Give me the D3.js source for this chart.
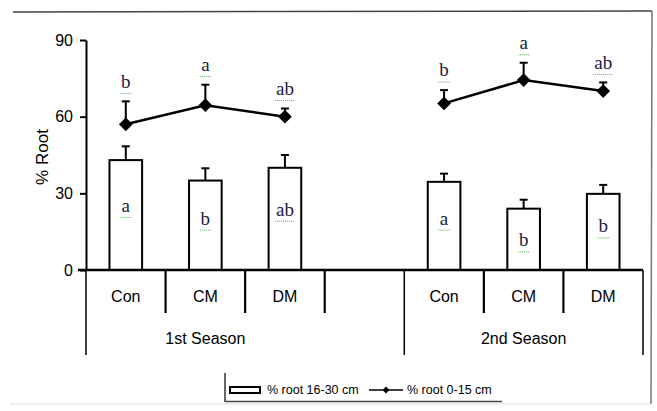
<!DOCTYPE html>
<html>
<head>
<meta charset="utf-8">
<script src="https://cdn.jsdelivr.net/npm/d3@7"></script>
<style>
	body { margin: 0; background: #fff; }
	svg { display: block; font-family: Arial, "Liberation Sans", sans-serif; }
</style>
</head>
<body>
<div id="chart"></div>
<script>

// categories
var seasons = ["1st Season", "2nd Season"];
var treatments = ["Con", "CM", "DM"];

// % root 16-30 cm (bars), upper error and letters
var deepRoot = [43, 35, 40, 34.5, 24, 29.8];
var deepErr = [5.4, 4.8, 5, 3.2, 3.5, 3.5];
var deepLetters = ["a", "b", "ab", "a", "b", "b"];
var deepLetterAt = [24.5, 19.5, 23, 19.5, 11, 16.5];	// where the letter sits, in % root

// % root 0-15 cm (line), upper error and letters
var topRoot = [57, 64.5, 60, 65.2, 74.3, 70];
var topErr = [9, 8, 3.2, 5.2, 6.8, 3.4];
var topLetters = ["b", "a", "ab", "b", "a", "ab"];

var yTicks = [0, 30, 60, 90];
var legendNames = ["% root 16-30 cm", "% root 0-15 cm"];

/*
 *	CHART PROPERTIES
 */
var width = 657, height = 411;
var margin = { top: 40, left: 86, right: 643, bottom: 270 };
var letterColor = "#1c1c3c";

var svg = d3.select("#chart").append("svg")
	.attr("width", width)
	.attr("height", height);

// frame round the figure
svg.append("line").attr("x1", 13).attr("y1", 12).attr("x2", 652).attr("y2", 11)
	.attr("stroke", "#444").attr("stroke-width", 1.5);
svg.append("line").attr("x1", 652).attr("y1", 11).attr("x2", 651).attr("y2", 404)
	.attr("stroke", "#777").attr("stroke-width", 1.5);
svg.append("line").attr("x1", 10).attr("y1", 404).attr("x2", 651).attr("y2", 404)
	.attr("stroke", "#ddd").attr("stroke-width", 1);

// 7 slots: 3 treatments, empty gap, 3 treatments
function slotOf(i) { return Math.floor(i / 3) * 4 + (i % 3); }

var xScale = d3.scaleBand()
	.domain(d3.range(7))
	.range([margin.left, margin.right])
	.padding(0);
var bw = xScale.bandwidth();
var barW = bw * 0.41;
function cx(i) { return xScale(slotOf(i)) + bw / 2; }

var yScale = d3.scaleLinear()
	.domain([0, 90])
	.range([margin.bottom, margin.top]);

var g = svg.append("g");

// bars
g.selectAll("rect.bar")
	.data(deepRoot).enter()
	.append("rect")
		.attr("class", "bar")
		.attr("x", function(d, i) { return cx(i) - barW / 2; })
		.attr("y", function(d) { return yScale(d); })
		.attr("width", barW)
		.attr("height", function(d) { return yScale(0) - yScale(d); })
		.attr("fill", "#fff")
		.attr("stroke", "#000")
		.attr("stroke-width", 2);

// upper error bars
function errBar(x, v, e) {
	var y1 = yScale(v), y2 = yScale(v + e);
	g.append("line").attr("x1", x).attr("x2", x).attr("y1", y1).attr("y2", y2)
		.attr("stroke", "#000").attr("stroke-width", 2);
	g.append("line").attr("x1", x - 4).attr("x2", x + 4).attr("y1", y2).attr("y2", y2)
		.attr("stroke", "#000").attr("stroke-width", 2);
}
deepRoot.forEach(function(d, i) { errBar(cx(i), d, deepErr[i]); });
topRoot.forEach(function(d, i) { errBar(cx(i), d, topErr[i]); });

// one line per season
var line = d3.line()
	.x(function(d) { return cx(d.i); })
	.y(function(d) { return yScale(d.v); });

seasons.forEach(function(s, k) {
	var pts = topRoot.map(function(v, i) { return { v: v, i: i }; })
		.filter(function(d) { return Math.floor(d.i / 3) === k; });
	g.append("path")
		.datum(pts)
		.attr("d", line)
		.attr("fill", "none")
		.attr("stroke", "#000")
		.attr("stroke-width", 2.5);
});

// diamonds
g.selectAll("path.pt")
	.data(topRoot).enter()
	.append("path")
		.attr("class", "pt")
		.attr("d", d3.symbol().type(d3.symbolDiamond2).size(120))
		.attr("transform", function(d, i) { return "translate(" + cx(i) + "," + yScale(d) + ")"; })
		.attr("fill", "#000");

// significance letters
function letter(x, y, t) {
	g.append("text")
		.attr("x", x).attr("y", y)
		.attr("text-anchor", "middle")
		.attr("dominant-baseline", "middle")
		.style("font-family", "'Liberation Serif', 'DejaVu Serif', serif")
		.style("font-size", "19px")
		.attr("fill", letterColor)
		.text(t);
	var w = t.length * 9 + 2;
	g.append("line")
		.attr("x1", x - w / 2).attr("x2", x + w / 2)
		.attr("y1", y + 10).attr("y2", y + 10)
		.attr("stroke", "#5a5").attr("stroke-width", 1)
		.attr("stroke-dasharray", "1,1");
}
topRoot.forEach(function(d, i) {
	letter(cx(i), yScale(d + topErr[i]) - 18, topLetters[i]);
});
deepRoot.forEach(function(d, i) {
	letter(cx(i), yScale(deepLetterAt[i]), deepLetters[i]);
});

/*
 *	AXES
 */
var yAxis = d3.axisLeft(yScale).tickValues(yTicks).tickSize(6).tickSizeOuter(0);
var ya = svg.append("g")
	.attr("class", "y axis")
	.attr("transform", "translate(" + margin.left + ",0)")
	.call(yAxis);
ya.select(".domain").attr("stroke-width", 2);
ya.selectAll(".tick line").attr("stroke-width", 2);
ya.selectAll(".tick text")
	.attr("x", -13)
	.style("font-size", "16px")
	.style("font-family", "Arial, 'Liberation Sans', sans-serif")
	.attr("fill", "#000");

svg.append("text")
	.attr("transform", "translate(48," + ((margin.top + margin.bottom) / 2 + 2) + ") rotate(-90)")
	.attr("text-anchor", "middle")
	.style("font-size", "17px")
	.text("% Root");

// category axis
svg.append("line")
	.attr("x1", margin.left - 8).attr("x2", margin.right)
	.attr("y1", margin.bottom).attr("y2", margin.bottom)
	.attr("stroke", "#000").attr("stroke-width", 2.5);

// short dividers between treatments, long ones between seasons
d3.range(8).forEach(function(k) {
	var x = k < 7 ? xScale(k) : margin.right;
	var full = (k === 0 || k === 4 || k === 7);
	svg.append("line")
		.attr("x1", x).attr("x2", x)
		.attr("y1", margin.bottom).attr("y2", full ? 355 : 313)
		.attr("stroke", "#000").attr("stroke-width", full ? 1.5 : 2.2);
});

treatments.concat(treatments).forEach(function(t, i) {
	svg.append("text")
		.attr("x", cx(i)).attr("y", 298)
		.attr("text-anchor", "middle")
		.attr("dominant-baseline", "middle")
		.style("font-size", "16px")
		.text(t);
});
seasons.forEach(function(s, k) {
	var x0 = xScale(k * 4), x1 = xScale(k * 4 + 2) + bw;
	svg.append("text")
		.attr("x", (x0 + x1) / 2).attr("y", 340)
		.attr("text-anchor", "middle")
		.attr("dominant-baseline", "middle")
		.style("font-size", "16px")
		.text(s);
});

/*
 *	LEGEND
 */
var lg = svg.append("g").attr("transform", "translate(225,373)");
lg.append("line").attr("x1", 0).attr("x2", 0).attr("y1", 0).attr("y2", 29)
	.attr("stroke", "#000").attr("stroke-width", 1.2);
lg.append("line").attr("x1", 0).attr("x2", 277).attr("y1", 28.5).attr("y2", 28.5)
	.attr("stroke", "#444").attr("stroke-width", 1.5);
lg.append("rect").attr("x", 5).attr("y", 14).attr("width", 30).attr("height", 6)
	.attr("fill", "#fff").attr("stroke", "#000").attr("stroke-width", 2);
lg.append("text").attr("x", 42).attr("y", 17.5)
	.attr("dominant-baseline", "middle")
	.style("font-size", "12.5px")
	.text(legendNames[0]);
lg.append("line").attr("x1", 144).attr("x2", 178).attr("y1", 17).attr("y2", 17)
	.attr("stroke", "#000").attr("stroke-width", 1.5);
lg.append("path")
	.attr("d", d3.symbol().type(d3.symbolDiamond2).size(30))
	.attr("transform", "translate(161,17)")
	.attr("fill", "#000");
lg.append("text").attr("x", 182).attr("y", 17.5)
	.attr("dominant-baseline", "middle")
	.style("font-size", "12.5px")
	.text(legendNames[1]);

</script>
</body>
</html>
